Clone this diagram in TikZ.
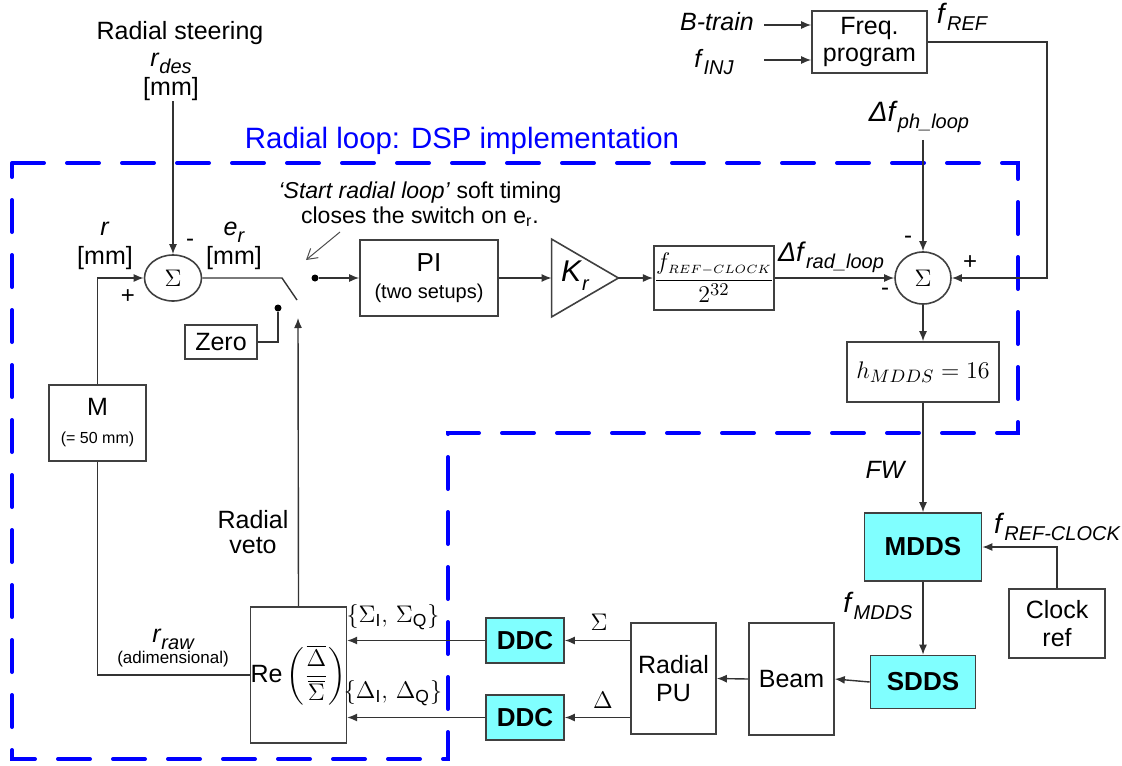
\documentclass[tikz,border=0pt]{standalone}
\usepackage{amsmath}
\usepackage{fontspec}
\setmainfont{Liberation Sans}
\usetikzlibrary{arrows.meta}
\usetikzlibrary{shapes.geometric}

\definecolor{ddsfill}{HTML}{80FFFF}

\newcommand{\vsub}[2]{\textit{#1}\raisebox{-0.55ex}{\fontsize{10}{10}\selectfont\itshape #2}}

\begin{document}
\begin{tikzpicture}[x=0.5pt, y=-0.5pt,
	>={Latex[length=5pt,width=4pt]},
	every node/.style={font=\fontsize{12.5}{14}\selectfont},
	blk/.style={draw=black!75, line width=0.8pt, inner sep=0pt},
	ddsbox/.style={blk, fill=ddsfill, font=\fontsize{13}{15}\selectfont\bfseries},
	sumnode/.style={draw=black!75, line width=0.8pt, ellipse, inner sep=0pt},
	wire/.style={draw=black!80, line width=0.7pt},
	sign/.style={font=\fontsize{12}{12}\selectfont, inner sep=0pt},
	twoline/.style={align=center, inner sep=0pt, font=\fontsize{12.5}{14.5}\selectfont},
	dot/.style={circle, fill=black, inner sep=0pt, minimum size=3.5pt},
	loopbox/.style={draw=blue, line width=2pt, dash pattern=on 16pt off 11.5pt, line cap=round}]
	
	\useasboundingbox (0,0) rectangle (1122,765);
	
	% DSP region
	\draw[loopbox] (12,163) -- (1018,163) -- (1018,433) -- (448,433) -- (448,759) -- (12,759) -- cycle;
	\node[font=\fontsize{14.7}{16}\selectfont, text=blue] (title) at (462,141) {Radial loop: DSP implementation};
	
	% Radial steering input
	\node (steer) at (180,33) {Radial steering};
	\node[twoline] (rdes) at (171,77) {\vsub{r}{des}\\{[mm]}};
	\node[sumnode, minimum width=28.5pt, minimum height=23pt] (sum1) at (173,278) {$\Sigma$};
	\draw[wire,->] (sum1.north |- rdes.south) -- (sum1.north);
	\node[sign] (s1m) at (190,243) {-};
	\node[sign] (s1p) at (128,297) {+};
	\node[twoline] (rlab) at (105,246) {\textit{r}\\{[mm]}};
	\node[twoline] (erlab) at (234,246) {\vsub{e}{r}\\{[mm]}};
	
	% Switch
	\coordinate (swa) at (282,278);
	\coordinate (swb) at (297,300);
	\draw[wire] (sum1.east) -- (swa) -- (swb);
	\node[dot] (zc) at (278,308) {};
	\node[dot] (oc) at (315,278) {};
	\node[blk, minimum width=36pt, minimum height=17pt] (zero) at (221,342) {Zero};
	\draw[wire] (zero.east) -| (zc);
	
	% Soft timing note
	\node[align=center, font=\fontsize{11.5}{12.5}\selectfont] (note) at (420,204)
	{\textit{`Start radial loop'} soft timing\\closes the switch on e\textsubscript{r}.};
	\coordinate (na) at (340,232);
	\coordinate (nb) at (306,260);
	\draw[line width=0.5pt, black!70, -{Straight Barb[length=5pt,width=6pt]}] (na) -- (nb);
	
	% Forward chain
	\node[blk, minimum width=69pt, minimum height=38pt, align=center, font=\fontsize{13}{13.5}\selectfont] (pi) at (429,278)
	{PI\\{\fontsize{10}{11}\selectfont (two setups)}};
	\draw[wire,->] (oc) -- (pi.west);
	\node[minimum width=33pt, minimum height=38.5pt, inner sep=0pt] (kr) at (585,278) {};
	\draw[blk] (kr.north west) -- (kr.east) -- (kr.south west) -- cycle;
	\node[font=\fontsize{15}{15}\selectfont] (krtxt) at (575,276) {\vsub{K}{r}};
	\draw[wire,->] (pi.east) -- (kr.west);
	\node[blk, minimum width=57pt, minimum height=32pt, font=\fontsize{12.5}{13}\selectfont] (frac) at (714,278)
	{$\displaystyle\frac{f_{\scriptscriptstyle REF-CLOCK}}{2^{32}}$};
	\draw[wire,->] (kr.east) -- (frac.west);
	\node (dfrad) at (831,257) {\vsub{\fontsize{13.5}{14}\selectfont Δf}{rad\_loop}};
	
	% Phase loop sum
	\node[sumnode, minimum width=28pt, minimum height=26pt] (sum2) at (923,278) {$\Sigma$};
	\draw[wire,->] (frac.east) -- (sum2.west);
	\node[sign] (s2a) at (908,240) {-};
	\node[sign] (s2b) at (885,292) {-};
	\node[sign] (s2c) at (970,263) {+};
	\node (dfph) at (919,117) {\vsub{\fontsize{14}{14}\selectfont Δf}{ph\_loop}};
	\draw[wire,->] (sum2.north |- dfph.south) -- (sum2.north);
	
	% Frequency program
	\node[blk, minimum width=57.5pt, minimum height=31pt, align=center, font=\fontsize{12.5}{13.5}\selectfont] (freq) at (869.5,42) {Freq.\\program};
	\node (btrain) at (717,22) {\textit{B-train}};
	\node (finj) at (714,62) {\vsub{f}{INJ}};
	\draw[wire,->] ([shift={(-23.5pt,8.5pt)}]freq.west) -- ([yshift=8.5pt]freq.west);
	\draw[wire,->] ([shift={(-23.5pt,-9pt)}]freq.west) -- ([yshift=-9pt]freq.west);
	\node (fref) at (962,17) {\vsub{\fontsize{14}{14}\selectfont f}{REF}};
	\draw[wire,->] (freq.east) -- ++(119,0) |- (sum2.east);
	
	% Harmonic and DDS chain
	\node[blk, minimum width=76pt, minimum height=30pt] (hbox) at (923,372) {$h_{MDDS}=16$};
	\draw[wire,->] (sum2.south) -- (hbox.north);
	\node[ddsbox, minimum width=58.5pt, minimum height=34pt] (mdds) at (923,547) {MDDS};
	\draw[wire,->] (hbox.south) -- (mdds.north);
	\node (fw) at (886,470) {\textit{FW}};
	\node[blk, minimum width=48pt, minimum height=34.5pt, align=center] (clock) at (1057,623.5) {Clock\\ref};
	\draw[wire,->] (clock.north) |- (mdds.east);
	\node (frefclk) at (1057,527) {\vsub{\fontsize{14}{14}\selectfont f}{REF-CLOCK}};
	\node[ddsbox, minimum width=52.5pt, minimum height=26.5pt] (sdds) at (923,682) {SDDS};
	\draw[wire,->] (mdds.south) -- (sdds.north);
	\node (fmdds) at (878,606) {\vsub{\fontsize{14}{14}\selectfont f}{MDDS}};
	
	% Beam and pick-up
	\node[blk, minimum width=42.5pt, minimum height=56pt] (beam) at (791.5,679) {Beam};
	\draw[wire,->] (sdds.west) -- (beam.east);
	\node[blk, minimum width=42.5pt, minimum height=55.5pt, align=center] (pu) at (673.5,678.5) {Radial\\PU};
	\draw[wire,->] (beam.west) -- (pu.east);
	\node[ddsbox, minimum width=39pt, minimum height=22.5pt] (ddc1) at (525,640.5) {DDC};
	\node[ddsbox, minimum width=39pt, minimum height=22.5pt] (ddc2) at (525,717.5) {DDC};
	\draw[wire,->] (pu.west |- ddc1.east) -- (ddc1.east);
	\draw[wire,->] (pu.west |- ddc2.east) -- (ddc2.east);
	\node (sig) at (599,622) {$\Sigma$};
	\node (del) at (603,700) {$\Delta$};
	
	% Position computation
	\node[blk, minimum width=45.5pt, minimum height=68pt] (re) at (298.5,675)
	{$\mathrm{Re}\left(\dfrac{\overline{\Delta}}{\overline{\Sigma}}\right)$};
	\draw[wire,->] (ddc1.west) -- (re.east |- ddc1.west);
	\draw[wire,->] (ddc2.west) -- (re.east |- ddc2.west);
	\node (sigiq) at (393,617) {$\{\Sigma_{\mathrm{I}},\,\Sigma_{\mathrm{Q}}\}$};
	\node (deliq) at (393,693) {$\{\Delta_{\mathrm{I}},\,\Delta_{\mathrm{Q}}\}$};
	\coordinate (vt) at (298,318);
	\draw[wire,->] (re.north) -- (vt);
	\node[align=center, font=\fontsize{12.5}{12.5}\selectfont] (veto) at (253,532) {Radial\\veto};
	
	% Feedback
	\node[blk, minimum width=48.5pt, minimum height=38pt, align=center] (m) at (97.5,423)
	{M\\{\fontsize{8}{9}\selectfont (= 50 mm)}};
	\draw[wire,->] (m.north) |- (sum1.west);
	\draw[wire] (re.west) -| (m.south);
	\node[align=center, inner sep=0pt, font=\fontsize{12.5}{8}\selectfont] (rraw) at (173,648)
	{\vsub{r}{raw}\\{\fontsize{8.5}{9}\selectfont (adimensional)}};
	
\end{tikzpicture}
\end{document}
